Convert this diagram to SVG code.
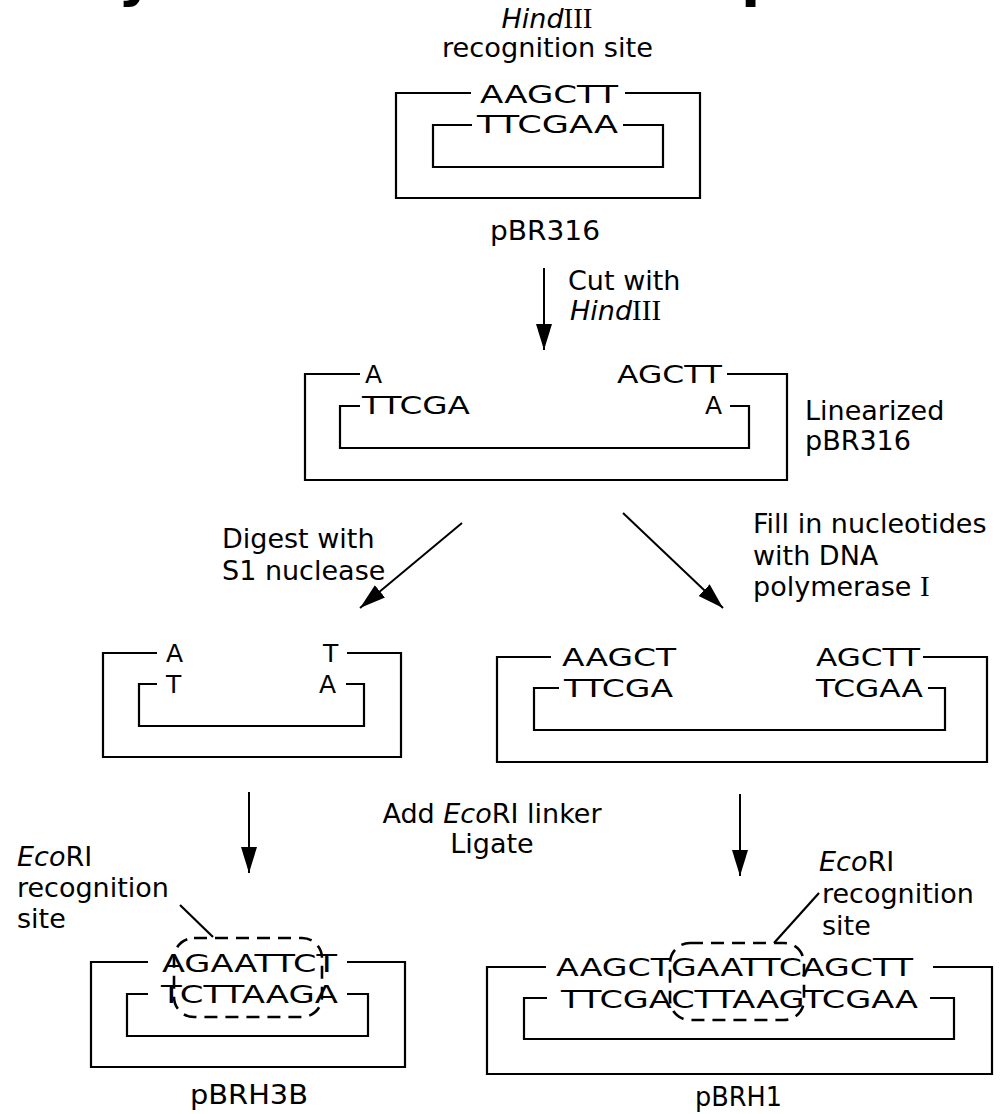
<svg xmlns="http://www.w3.org/2000/svg" width="1004" height="1114" viewBox="0 0 1004 1114">
<style>
.ln{fill:none;stroke:#000;stroke-width:2.2}
.t{font-family:"DejaVu Sans",sans-serif;font-size:27px;fill:#000}
.dna{font-family:"DejaVu Sans",sans-serif;font-size:25px;fill:#000}
.it{font-style:italic}
.rm{font-family:"Liberation Serif",serif;font-size:29px}
.dash{fill:none;stroke:#000;stroke-width:2.6;stroke-dasharray:13 8}
.arr{fill:none;stroke:#000;stroke-width:2;marker-end:url(#ah)}
.big{font-family:"DejaVu Sans",sans-serif;font-size:56px;font-weight:bold;fill:#000}
</style>
<defs>
<marker id="ah" markerUnits="userSpaceOnUse" markerWidth="28" markerHeight="20" refX="26" refY="8" orient="auto">
<path d="M0,0 L26,8 L0,16 Z" fill="#000"/>
</marker>
</defs>
<rect width="1004" height="1114" fill="#fff"/>

<g id="title-fragments">
<text class="big" x="118" y="-5">y</text>
<text class="big" x="741" y="-5">p</text>
</g>

<g id="pBR316">
<text class="t" x="547" y="28" text-anchor="middle"><tspan class="it">Hind</tspan><tspan class="rm">III</tspan></text>
<text class="t" x="442" y="57" textLength="211" lengthAdjust="spacingAndGlyphs">recognition site</text>
<path class="ln" d="M471 93 H396 V198 H700 V93 H625"/>
<path class="ln" d="M472 125 H433 V167 H663 V125 H623"/>
<text class="dna" x="480" y="103" textLength="138" lengthAdjust="spacingAndGlyphs">AAGCTT</text>
<text class="dna" x="477" y="133" textLength="141" lengthAdjust="spacingAndGlyphs">TTCGAA</text>
<text class="t" x="490" y="240" textLength="110" lengthAdjust="spacingAndGlyphs">pBR316</text>
</g>

<g id="cut-label">
<text class="t" x="568" y="290">Cut with</text>
<text class="t" x="570" y="320"><tspan class="it">Hind</tspan><tspan class="rm">III</tspan></text>
</g>

<g id="linearized">
<path class="ln" d="M360 374 H305 V480 H787 V374 H727"/>
<path class="ln" d="M360 406 H340 V448 H749 V406 H730"/>
<text class="dna" x="365" y="383">A</text>
<text class="dna" x="617" y="383" textLength="105" lengthAdjust="spacingAndGlyphs">AGCTT</text>
<text class="dna" x="362" y="414" textLength="108" lengthAdjust="spacingAndGlyphs">TTCGA</text>
<text class="dna" x="705" y="414">A</text>
<text class="t" x="805" y="420">Linearized</text>
<text class="t" x="805" y="450">pBR316</text>
</g>

<g id="s1-label">
<text class="t" x="222" y="548">Digest with</text>
<text class="t" x="222" y="580">S1 nuclease</text>
</g>

<g id="fill-label">
<text class="t" x="753" y="533">Fill in nucleotides</text>
<text class="t" x="753" y="565">with DNA</text>
<text class="t" x="753" y="596">polymerase <tspan class="rm">I</tspan></text>
</g>

<g id="blunt-s1">
<path class="ln" d="M157 653 H103 V757 H401 V653 H347"/>
<path class="ln" d="M157 684 H139 V726 H364 V684 H346"/>
<text class="dna" x="166" y="662">A</text>
<text class="dna" x="323" y="662">T</text>
<text class="dna" x="166" y="693">T</text>
<text class="dna" x="319" y="693">A</text>
</g>

<g id="blunt-fill">
<path class="ln" d="M551 657 H497 V762 H987 V657 H923"/>
<path class="ln" d="M559 688 H534 V730 H945 V688 H928"/>
<text class="dna" x="562" y="666" textLength="114" lengthAdjust="spacingAndGlyphs">AAGCT</text>
<text class="dna" x="816" y="666" textLength="104" lengthAdjust="spacingAndGlyphs">AGCTT</text>
<text class="dna" x="564" y="697" textLength="109" lengthAdjust="spacingAndGlyphs">TTCGA</text>
<text class="dna" x="816" y="697" textLength="107" lengthAdjust="spacingAndGlyphs">TCGAA</text>
</g>

<g id="linker-label">
<text class="t" x="492" y="823" text-anchor="middle">Add <tspan class="it">Eco</tspan>RI linker</text>
<text class="t" x="492" y="853" text-anchor="middle">Ligate</text>
</g>

<g id="pBRH3B">
<text class="t" x="17" y="866"><tspan class="it">Eco</tspan>RI</text>
<text class="t" x="17" y="897">recognition</text>
<text class="t" x="17" y="928">site</text>
<path class="ln" d="M148 962 H91 V1067 H405 V962 H347"/>
<path class="ln" d="M148 994 H127 V1036 H368 V994 H347"/>
<text class="dna" x="162" y="972" textLength="175" lengthAdjust="spacingAndGlyphs">AGAATTCT</text>
<text class="dna" x="161" y="1003" textLength="177" lengthAdjust="spacingAndGlyphs">TCTTAAGA</text>
<rect class="dash" x="174" y="938" width="148" height="79" rx="20"/>
<text class="t" x="190" y="1104" textLength="118" lengthAdjust="spacingAndGlyphs">pBRH3B</text>
</g>

<g id="pBRH1">
<text class="t" x="819" y="871"><tspan class="it">Eco</tspan>RI</text>
<text class="t" x="822" y="903">recognition</text>
<text class="t" x="822" y="935">site</text>
<path class="ln" d="M546 967 H487 V1074 H992 V967 H933"/>
<path class="ln" d="M547 998 H524 V1039 H954 V998 H930"/>
<text class="dna" x="556" y="976" textLength="357" lengthAdjust="spacingAndGlyphs">AAGCTGAATTCAGCTT</text>
<text class="dna" x="561" y="1008" textLength="357" lengthAdjust="spacingAndGlyphs">TTCGACTTAAGTCGAA</text>
<rect class="dash" x="670" y="943" width="134" height="77" rx="20"/>
<text class="t" x="695" y="1106" textLength="87" lengthAdjust="spacingAndGlyphs">pBRH1</text>
</g>

<g id="connectors">
<path class="arr" d="M544 268 V350"/>
<path class="arr" d="M462 523 L360 608"/>
<path class="arr" d="M623 513 L723 608"/>
<path class="arr" d="M249 792 V873"/>
<path class="arr" d="M740 794 V876"/>
<path class="ln" stroke-width="2" d="M180 905 L213 937"/>
<path class="ln" stroke-width="2" d="M819 893 L774 943"/>
</g>
</svg>
